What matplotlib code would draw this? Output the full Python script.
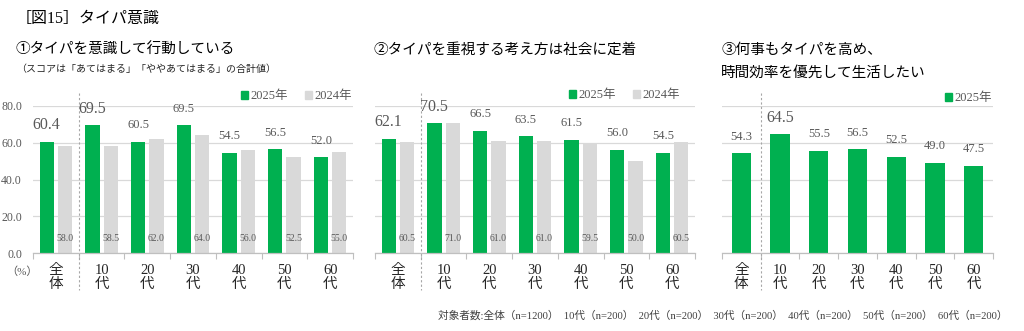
import matplotlib
matplotlib.use("Agg")
import matplotlib.pyplot as plt
import matplotlib.transforms as mtransforms
from matplotlib.patches import Patch
import numpy as np

plt.rcParams['font.family'] = ['Liberation Serif', 'Noto Sans CJK JP']

# ---------------- data ----------------
categories = ["全体", "10代", "20代", "30代", "40代", "50代", "60代"]
tick_labels = ["全\n体", "10\n代", "20\n代", "30\n代", "40\n代", "50\n代", "60\n代"]
p1_2025 = [60.4, 69.5, 60.5, 69.5, 54.5, 56.5, 52.0]
p1_2024 = [58.0, 58.5, 62.0, 64.0, 56.0, 52.5, 55.0]
p2_2025 = [62.1, 70.5, 66.5, 63.5, 61.5, 56.0, 54.5]
p2_2024 = [60.5, 71.0, 61.0, 61.0, 59.5, 50.0, 60.5]
p3_2025 = [54.3, 64.5, 55.5, 56.5, 52.5, 49.0, 47.5]
yticks = [0, 20, 40, 60, 80]
series_labels = ["2025年", "2024年"]

GREEN = '#00B050'
GRAY = '#D9D9D9'
TXT = '#595959'
GRID = '#D9D9D9'
AXC = '#BFBFBF'

W, H = 1024, 331
fig = plt.figure(figsize=(W / 100, H / 100), dpi=100)


def ax_at(x0, x1, y_top, y_bot):
    return fig.add_axes([x0 / W, 1 - y_bot / H, (x1 - x0) / W, (y_bot - y_top) / H])


def panel(ax, v25, v24, big_idx, show_y, legend_right, legend_y):
    x = np.arange(len(categories))
    if v24 is not None:
        w, off = 0.31, 0.2
        ax.bar(x - off, v25, w, color=GREEN, zorder=2)
        ax.bar(x + off, v24, w, color=GRAY, zorder=2)
        gx = x - off
        for xi, v in zip(x + off, v24):
            ax.text(xi, 8, f"{v:.1f}", ha='center', va='center', fontsize=7, color=TXT, zorder=3)
        handles = [Patch(color=GREEN, label=series_labels[0]), Patch(color=GRAY, label=series_labels[1])]
    else:
        ax.bar(x, v25, 0.5, color=GREEN, zorder=2)
        gx = x
        handles = [Patch(color=GREEN, label=series_labels[0])]
    for i, (xi, v) in enumerate(zip(gx, v25)):
        fs = 11.5 if i in big_idx else 9
        ax.annotate(f"{v:.1f}", (xi, v), xytext=(0, 12), textcoords='offset points',
                    ha='center', va='center', fontsize=fs, color=TXT)
    ax.set_xlim(-0.5, 6.5)
    ax.set_ylim(0, 80)
    ax.set_yticks(yticks)
    ax.yaxis.grid(True, color=GRID, lw=0.9)
    ax.set_axisbelow(True)
    for s in ['top', 'right', 'left']:
        ax.spines[s].set_visible(False)
    ax.spines['bottom'].set_color(AXC)
    ax.spines['bottom'].set_linewidth(0.9)
    ax.set_xticks(x)
    ax.set_xticklabels(tick_labels, fontsize=10.5, linespacing=1.12, color='#262626')
    ax.tick_params(axis='x', which='major', length=0, pad=8)
    ax.set_xticks(np.arange(-0.5, 7, 1), minor=True)
    ax.tick_params(axis='x', which='minor', length=4, color=AXC, width=0.8)
    if show_y:
        ax.set_yticklabels([f"{t:.1f}" for t in yticks], fontsize=8.5, color=TXT)
        ax.tick_params(axis='y', length=0, pad=8)
    else:
        ax.tick_params(axis='y', length=0, labelleft=False)
    trans = mtransforms.blended_transform_factory(ax.transData, ax.transAxes)
    ax.plot([0.5, 0.5], [1.09, -0.25], transform=trans, clip_on=False,
            ls=(0, (2, 2)), color='#A6A6A6', lw=0.8)
    ax.legend(handles=handles, ncol=len(handles), loc='center right',
              bbox_to_anchor=(legend_right / W, 1 - legend_y / H), bbox_transform=fig.transFigure,
              frameon=False, handlelength=0.6, handleheight=0.6, handletextpad=0.2,
              columnspacing=1.3, fontsize=9, labelcolor=TXT, borderpad=0, borderaxespad=0)


ax1 = ax_at(33, 353, 106, 253)
ax2 = ax_at(375, 695, 106, 253)
ax3 = ax_at(722, 993, 106, 253)

panel(ax1, p1_2025, p1_2024, [0, 1], True, 352, 96)
panel(ax2, p2_2025, p2_2024, [0, 1], False, 680, 95)
panel(ax3, p3_2025, None, [1], False, 992, 98)

fig.text(6 / W, 1 - 272 / H, "（%）", fontsize=8, color=TXT, va='center', ha='left')

# titles
fig.text(16 / W, 1 - 19 / H, "［図15］タイパ意識", fontsize=11.5, va='center', ha='left', color='#000000')
fig.text(16 / W, 1 - 50 / H, "①タイパを意識して行動している", fontsize=10.5, va='center', ha='left')
fig.text(16 / W, 1 - 69 / H, "（スコアは「あてはまる」「ややあてはまる」の合計値）", fontsize=7.2, va='center', ha='left', color='#262626')
fig.text(374 / W, 1 - 50 / H, "②タイパを重視する考え方は社会に定着", fontsize=10.5, va='center', ha='left')
fig.text(721 / W, 1 - 50 / H, "③何事もタイパを高め、", fontsize=10.5, va='center', ha='left')
fig.text(721 / W, 1 - 73 / H, "時間効率を優先して生活したい", fontsize=10.5, va='center', ha='left')

fig.text(1007 / W, 1 - 316 / H,
         "対象者数:全体（n=1200）  10代（n=200）  20代（n=200）  30代（n=200）  40代（n=200）  50代（n=200）  60代（n=200）",
         fontsize=7.7, va='center', ha='right', color='#404040')

fig.savefig("out.png", dpi=100)
